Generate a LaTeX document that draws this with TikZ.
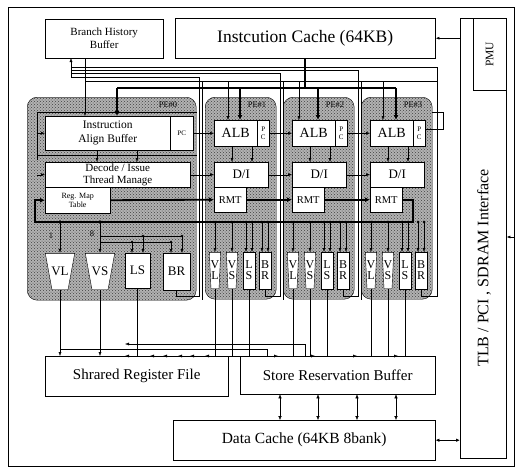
\documentclass[tikz,border=0pt]{standalone}
\usepackage{fontspec}
\setmainfont{Liberation Serif}
\usetikzlibrary{positioning, arrows.meta, calc, patterns}

\begin{document}
\begin{tikzpicture}[
  x=1pt, y=-1pt,
  every node/.style={font=\fontsize{10}{12}\selectfont},
  blk/.style={draw, fill=white, inner sep=0pt, anchor=north west, align=center},
  unit/.style={draw, fill=white, inner sep=0pt, align=center, font=\fontsize{12}{11}\selectfont},
  trap/.style={inner sep=0pt, align=center, font=\fontsize{12}{11}\selectfont,
    path picture={\draw[fill=white]
      ([shift={(0.3pt,-0.3pt)}]path picture bounding box.north west) --
      ([shift={(-0.3pt,-0.3pt)}]path picture bounding box.north east) --
      ([shift={(-#1,0.3pt)}]path picture bounding box.south east) --
      ([shift={(#1,0.3pt)}]path picture bounding box.south west) -- cycle;}},
  pe/.style={draw, rounded corners=10pt, anchor=north west, inner sep=0pt,
    preaction={fill=black!30}, pattern=crosshatch dots, pattern color=black!75},
  ar/.style={-{Latex[length=4pt, width=3pt]}},
  dar/.style={{Latex[length=4pt, width=3.5pt]}-{Latex[length=4pt, width=3.5pt]}},
  bus/.style={line width=1.8pt},
  busar/.style={bus, -{Latex[length=5pt, width=5pt]}},
  lbl/.style={font=\fontsize{8.5}{10}\selectfont, inner sep=1pt}
]
\useasboundingbox (0,0) rectangle (518,472);

% outer frame
\draw (8,7) rectangle (514,466);

% top blocks
\node[blk, minimum width=118, minimum height=39, font=\fontsize{11}{13}\selectfont] (bhb) at (45,19) {Branch History\\Buffer};
\node[blk, minimum width=260, minimum height=40, font=\fontsize{17.5}{19}\selectfont] (icache) at (175,18) {Instcution Cache (64KB)};

% interface column
\node[blk, minimum width=46, minimum height=440] (tlb) at (460,18) {};
\node[blk, minimum width=33, minimum height=72] (pmu) at (473,18) {};
\node[rotate=90, font=\fontsize{11.5}{13}\selectfont] (pmulbl) at (pmu.center) {PMU};
\node[rotate=90, font=\fontsize{16}{18}\selectfont] (tlblbl) at (484,268) {TLB / PCI , SDRAM Interface};

% PE#0
\node[pe, minimum width=169, minimum height=203] (pe0) at (27,97) {};
\node[lbl] (pelbl0) at (168,105) {PE\#0};
\node[blk, minimum width=125, minimum height=34, font=\fontsize{11.5}{14}\selectfont] (iab) at (45,116) {Instruction\\Align Buffer};
\node[blk, minimum width=23, minimum height=34, font=\fontsize{7}{8}\selectfont] (iabpc) at (170,116) {PC};
\node[blk, minimum width=145, minimum height=25, font=\fontsize{11}{12.5}\selectfont] (dec) at (45,162) {Decode / Issue\\Thread Manage};
\node[blk, minimum width=65, minimum height=26, font=\fontsize{8}{9}\selectfont] (regmap) at (45,187) {Reg. Map\\Table};
\node[trap=7pt, minimum width=30, minimum height=37, font=\fontsize{13}{14}\selectfont] (vl0) at (60,271.5) {VL};
\node[trap=7pt, minimum width=30, minimum height=37, font=\fontsize{13}{14}\selectfont] (vs0) at (100,271.5) {VS};
\node[unit, minimum width=25, minimum height=35, font=\fontsize{13}{14}\selectfont] (ls0) at (137.5,270.5) {LS};
\node[unit, minimum width=27, minimum height=37, font=\fontsize{13}{14}\selectfont] (br0) at (176.5,271.5) {BR};
\node[lbl] (w1) at (51,236) {1};
\node[lbl] (w8) at (92,234) {8};

% PE#1 .. PE#3
\foreach \k in {1,2,3} {
  \pgfmathsetmacro\xo{205+78*(\k-1)}
  \node[pe, minimum width=71, minimum height=202] (pe\k) at (\xo,97) {};
  \node[lbl] (pelbl\k) at (\xo+52,105) {PE\#\k};
  \node[blk, minimum width=43, minimum height=26, font=\fontsize{14}{15}\selectfont] (alb\k) at (\xo+9,120) {ALB};
  \node[blk, minimum width=12, minimum height=26, font=\fontsize{7}{8}\selectfont] (pc\k) at (\xo+52,120) {P\\C};
  \node[blk, minimum width=54, minimum height=25, font=\fontsize{13}{14}\selectfont] (di\k) at (\xo+9,162) {D/I};
  \node[blk, minimum width=32, minimum height=25, font=\fontsize{10.5}{12}\selectfont] (rmt\k) at (\xo+9,187) {RMT};
  \node[trap=2pt, minimum width=12, minimum height=37] (vl\k) at (\xo+10,270.5) {V\\L};
  \node[trap=2pt, minimum width=12, minimum height=37] (vs\k) at (\xo+27,270.5) {V\\S};
  \node[unit, minimum width=12, minimum height=37] (ls\k) at (\xo+44,270.5) {L\\S};
  \node[unit, minimum width=12, minimum height=37] (br\k) at (\xo+60,270.5) {B\\R};
}

% bottom blocks
\node[blk, minimum width=183, minimum height=40, font=\fontsize{15}{17}\selectfont] (srf) at (45,356) {Shrared Register File};
\node[blk, minimum width=195, minimum height=38, font=\fontsize{15}{17}\selectfont] (srb) at (240,356) {Store Reservation Buffer};
\node[blk, minimum width=262, minimum height=40, font=\fontsize{15.5}{17}\selectfont] (dc) at (173,420) {Data Cache (64KB 8bank)};

% instruction fetch bus
\coordinate (ib0) at (117,88);
\draw[bus] (icache.south) -- (icache.south |- ib0);
\draw[bus] (ib0) -- (396,88);
\draw[busar] (ib0) -- (ib0 |- iab.north);
\foreach \k/\x in {1/240, 2/318, 3/396} {
  \coordinate (ib\k) at (\x,88);
  \draw[busar] (ib\k) -- (ib\k |- alb\k.north);
}

% branch history
\coordinate (bho) at (85,58);
\coordinate (bhi) at (71,58);
\draw[ar] (bho) -- (bho |- iab.north);
\draw (85,81) -- (437,81);
\foreach \k/\x in {1/228, 2/299, 3/383} {
  \coordinate (ta\k) at (\x,81);
  \draw[ar] (ta\k) -- (ta\k |- alb\k.north);
}
\draw[ar] (71,77) -- (bhi);
\foreach \k/\xv/\yl in {0/199/77, 1/280/73, 2/358/70, 3/437/67}
  \draw (br\k.south) |- (\xv,296) -- (\xv,\yl) -- (71,\yl);
\foreach \xv in {202, 283, 361}
  \draw (\xv,81) -- (\xv,300);

% PC chain
\draw[ar] (iabpc.east) -- (alb1.west);
\draw[ar] (pc1.east) -- (alb2.west);
\draw[ar] (pc2.east) -- (alb3.west);
\draw ([yshift=4pt]pc3.east) -| (443,112) -- (432,112);

% PE#0 inner lines
\coordinate (lf) at (37,112);
\draw (lf) -- (197,112);
\draw (lf) -- (37,160);
\draw[ar] (lf |- iab.west) -- (iab.west);
\draw[ar] (lf |- dec.west) -- (dec.west);
\draw (37,155) -- (197,155);
\draw[ar] ([xshift=52pt]iab.south west) -- ([xshift=52pt]dec.north west);
\draw[ar] ([xshift=92pt]iab.south west) -- ([xshift=92pt]dec.north west);

% decode chain
\draw[ar] (dec.east) -- (di1.west);
\draw[ar] (di1.east) -- (di2.west);
\draw[ar] (di2.east) -- (di3.west);
\foreach \k in {1,2,3} {
  \draw[ar] ([xshift=18pt]alb\k.south west) -- ([xshift=18pt]di\k.north west);
  \draw[ar] ([xshift=38pt]alb\k.south west) -- ([xshift=38pt]di\k.north west);
}

% register map bus
\draw[busar] (regmap.east) -- (rmt1.west);
\draw[busar] (rmt1.east) -- (rmt2.west);
\draw[busar] (rmt2.east) -- (rmt3.west);
\coordinate (rb) at (413,222);
\coordinate (lb) at (35,222);
\draw[busar] (rmt3.east) -| (rb) -- (lb) |- (regmap.west);

% taps to function units
\foreach \n in {vl0, vs0} {
  \draw[ar] (\n.north |- lb) -- (\n.north);
  \fill (\n.north |- lb) circle (1.8pt);
}
\draw (100,236) -- (182,236);
\draw (100,242) -- (171,242);
\foreach \x/\y in {143/236, 182/236, 132/242, 171/242} {
  \draw[ar] (\x,\y) -- (\x,253);
  \fill (\x,\y) circle (1.3pt);
}
\foreach \k in {1,2,3} {
  \pgfmathsetmacro\xo{205+78*(\k-1)}
  \foreach \d in {10, 27, 41, 47, 57, 63} {
    \draw[ar] (\xo+\d,222) -- (\xo+\d,252);
    \fill (\xo+\d,222) circle (1.5pt);
  }
}

% results to register file / store buffer
\draw[ar] (vl0.south) -- (vl0.south |- srf.north);
\draw[ar] (vs0.south) -- (vs0.south |- srf.north);
\draw (ls0.south) -- (ls0.south |- srf.north);
\foreach \k in {1,2,3}
  \foreach \n in {vl, vs, ls}
    \draw (\n\k.south) -- (\n\k.south |- srf.north);
\draw (125,356) -- (410,356);
\foreach \x in {125,150,163,178,190,205}
  \draw[ar] (\x+6,356) -- (\x,356);
\foreach \x in {278,315,357,398}
  \draw[ar] (\x-6,356) -- (\x,356);
\draw (60,349) -- (267,349) -- (267,356);
\draw[ar] (305,356) |- (125,344);

% store buffer <-> data cache
\foreach \x in {280,318,357,396}
  \draw[dar] ($(srb.south west)+(\x-240,0)$) -- ($(dc.north west)+(\x-173,0)$);

% interface links
\draw[dar, line width=1pt] (dc.east) -- (dc.east -| tlb.west);
\draw[ar, line width=1pt] (icache.east -| tlb.west) -- (icache.east);
\coordinate (ext) at (514,237);
\draw[ar, line width=1pt] (ext) -- (ext -| tlb.east);

\end{tikzpicture}
\end{document}
